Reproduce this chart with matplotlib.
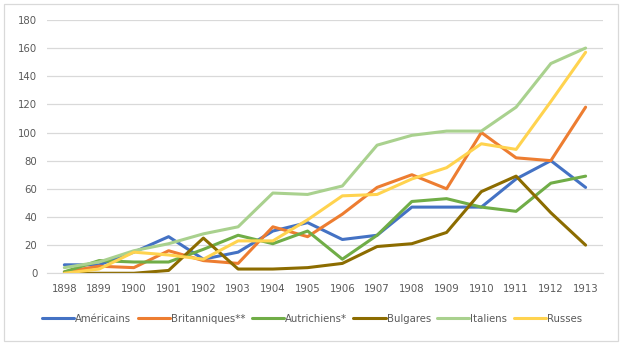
import numpy as np
import matplotlib
matplotlib.use("Agg")
import matplotlib.pyplot as plt
from matplotlib.patches import Rectangle

years = ["1898", "1899", "1900", "1901", "1902", "1903", "1904", "1905",
         "1906", "1907", "1908", "1909", "1910", "1911", "1912", "1913"]

americains = [6, 6, 15, 26, 10, 15, 30, 36, 24, 27, 47, 47, 47, 67, 80, 61]
britanniques = [1, 5, 4, 16, 9, 7, 33, 26, 42, 61, 70, 60, 100, 82, 80, 118]
autrichiens = [1, 9, 8, 8, 17, 27, 21, 30, 10, 27, 51, 53, 47, 44, 64, 69]
bulgares = [0, 0, 0, 2, 25, 3, 3, 4, 7, 19, 21, 29, 58, 69, 43, 20]
italiens = [4, 8, 16, 21, 28, 33, 57, 56, 62, 91, 98, 101, 101, 118, 149, 160]
russes = [0, 3, 15, 13, 10, 23, 23, 38, 55, 56, 67, 75, 92, 88, 122, 157]

series = [
    ("Américains", americains, "#4472C4"),
    ("Britanniques**", britanniques, "#ED7D31"),
    ("Autrichiens*", autrichiens, "#70AD47"),
    ("Bulgares", bulgares, "#8C6C00"),
    ("Italiens", italiens, "#A9D18E"),
    ("Russes", russes, "#FFD34F"),
]

plt.rcParams["font.family"] = ["DejaVu Sans"]

fig = plt.figure(figsize=(6.24, 3.49), dpi=100)
ax = fig.add_axes([0.0753, 0.217, 0.891, 0.726])

x = np.arange(len(years))
for name, vals, color in series:
    ax.plot(x, vals, color=color, lw=2.2, label=name, solid_capstyle="round",
            solid_joinstyle="round")

ax.set_xlim(-0.5, len(years) - 0.5)
ax.set_ylim(0, 180)
ax.set_yticks(np.arange(0, 181, 20))
ax.set_xticks(x)
ax.set_xticklabels(years)
ax.grid(axis="y", color="#D9D9D9", lw=0.9)
ax.set_axisbelow(True)
for s in ["top", "right", "left"]:
    ax.spines[s].set_visible(False)
ax.spines["bottom"].set_color("#D9D9D9")
ax.tick_params(length=0, labelsize=7.3, colors="#595959", pad=8)
ax.tick_params(axis="y", pad=7)

leg = fig.legend(loc="center", bbox_to_anchor=(0.5, 1 - 319 / 349), ncol=6,
                 frameon=False, fontsize=7.3, handlelength=3.2,
                 handletextpad=0.1, columnspacing=0.6)
for t in leg.get_texts():
    t.set_color("#595959")

fig.patches.append(Rectangle((4 / 624, 1 - 341 / 349), 614 / 624, 337 / 349,
                             transform=fig.transFigure, fill=False,
                             edgecolor="#D9D9D9", lw=0.9))

fig.savefig("out.png", dpi=100)
